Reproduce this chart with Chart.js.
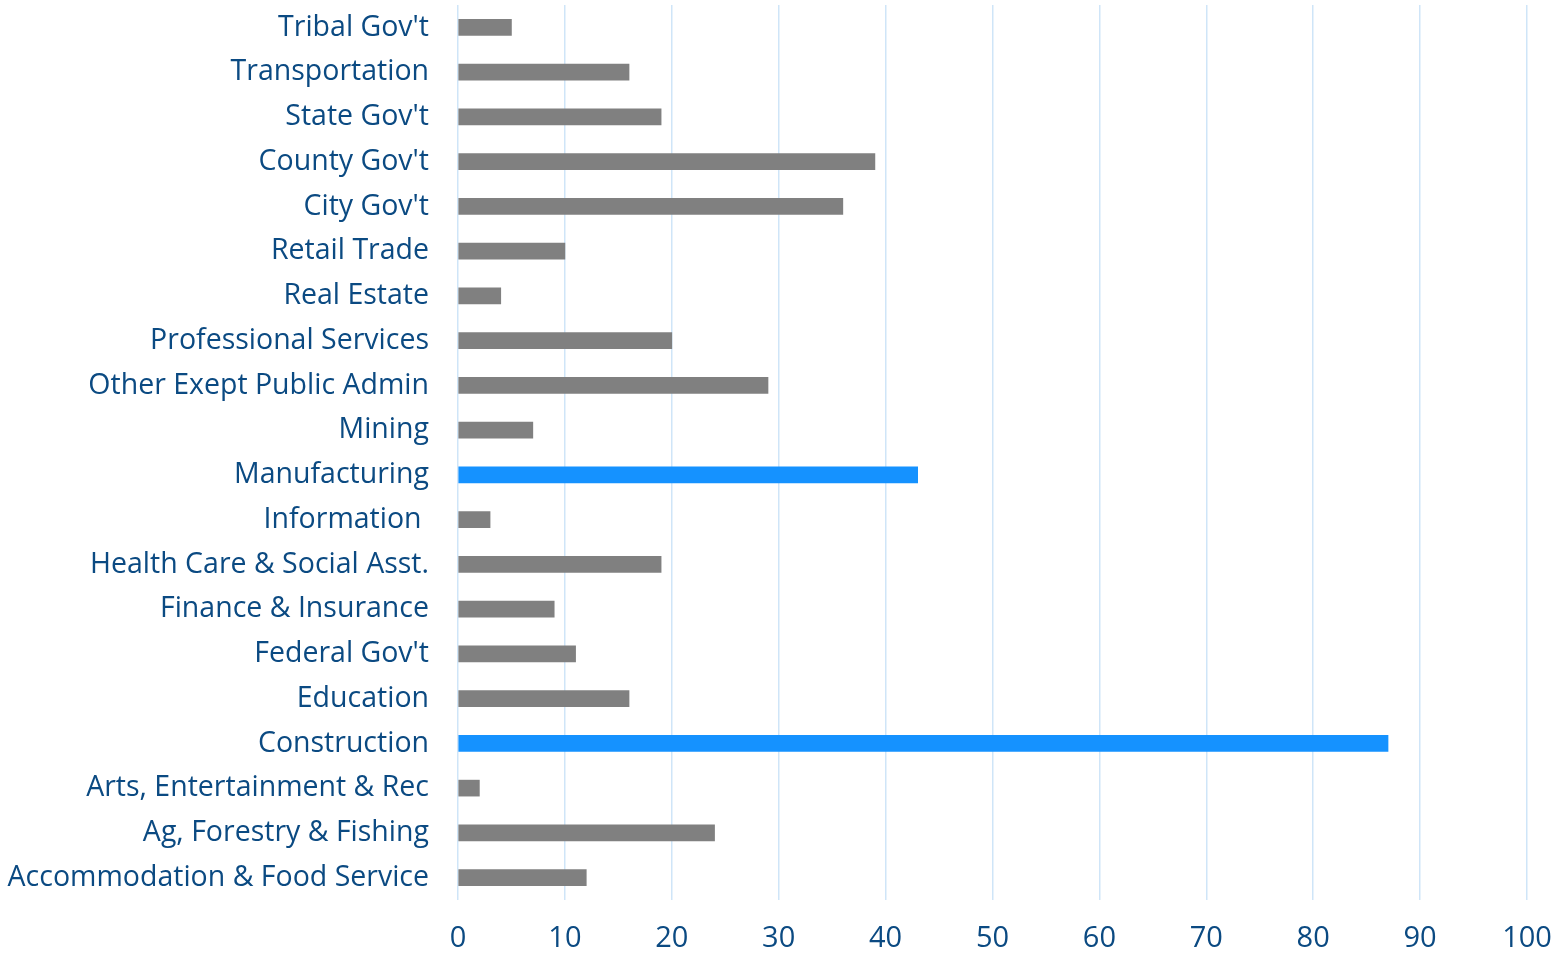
<!DOCTYPE html>
<html>
<head>
<meta charset="utf-8">
<script src="https://cdn.jsdelivr.net/npm/chart.js@4"></script>
<style>
html,body{margin:0;padding:0;background:#fff;}
#wrap{width:1559px;height:954px;position:relative;}
</style>
</head>
<body>
<div id="wrap"><canvas id="c" width="1559" height="954"></canvas></div>
<script>
const categories = ["Tribal Gov't","Transportation","State Gov't","County Gov't","City Gov't","Retail Trade","Real Estate","Professional Services","Other Exept Public Admin","Mining","Manufacturing","Information ","Health Care & Social Asst.","Finance & Insurance","Federal Gov't","Education","Construction","Arts, Entertainment & Rec","Ag, Forestry & Fishing","Accommodation & Food Service"];
const values = [5,16,19,39,36,10,4,20,29,7,43,3,19,9,11,16,87,2,24,12];
const highlighted = ["Manufacturing","Construction"];
const xTicks = [0,10,20,30,40,50,60,70,80,90,100];

const textColor = '#0b4a82';
const colors = categories.map(c => highlighted.includes(c) ? '#1592ff' : '#808080');

new Chart(document.getElementById('c'), {
  type: 'bar',
  data: {
    labels: categories,
    datasets: [{ data: values, backgroundColor: colors, barThickness: 16, borderWidth: 0 }]
  },
  options: {
    indexAxis: 'y',
    responsive: false,
    animation: false,
    layout: { padding: { top: 5, right: 32, left: 0, bottom: 0 } },
    plugins: { legend: { display: false }, tooltip: { enabled: false } },
    scales: {
      x: {
        min: 0, max: 100,
        afterBuildTicks: s => { s.ticks = xTicks.map(v => ({ value: v })); },
        afterFit: s => { s.height = 54; s.paddingLeft = 0; s.paddingRight = 0; },
        grid: { color: '#cfe5f8', lineWidth: 1.5, drawTicks: false },
        border: { display: false },
        ticks: { color: textColor, font: { family: 'Open Sans', size: 29 }, padding: 21, maxRotation: 0 }
      },
      y: {
        afterFit: s => { s.width = 458; s.paddingTop = 0; s.paddingBottom = 0; },
        grid: { display: false, drawTicks: false },
        border: { display: false },
        ticks: { color: textColor, font: { family: 'Open Sans', size: 28.5 }, padding: 29, autoSkip: false }
      }
    }
  }
});
</script>
</body>
</html>
